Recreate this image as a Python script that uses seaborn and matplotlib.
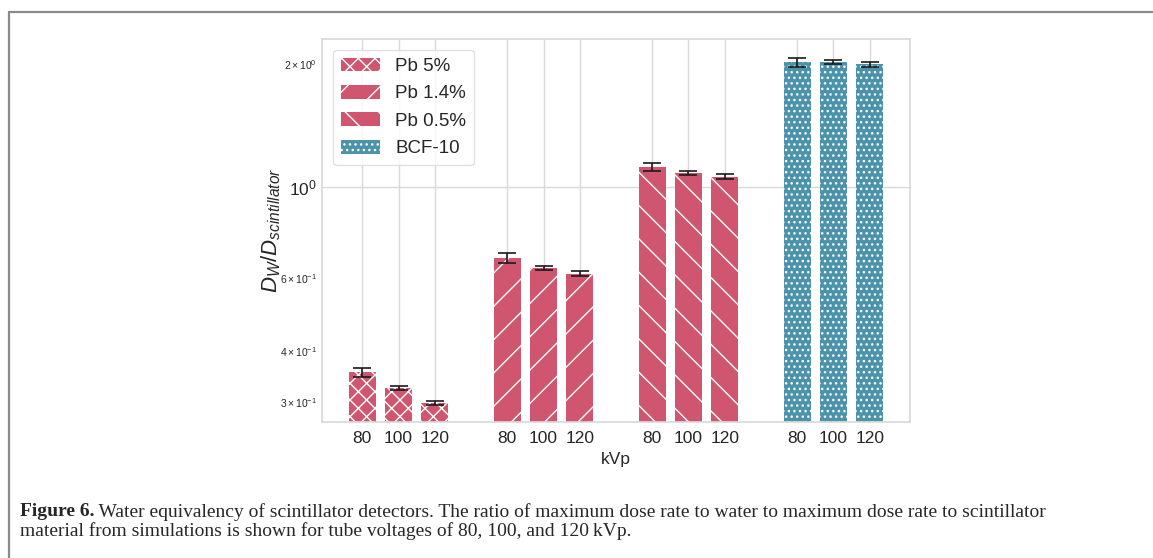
import numpy as np
import matplotlib
matplotlib.use("Agg")
import matplotlib.pyplot as plt
import seaborn as sns

# Tube voltages and detector materials
kvp = ["80", "100", "120"]
materials = ["Pb 5%", "Pb 1.4%", "Pb 0.5%", "BCF-10"]

# Ratio D_W / D_scintillator for each material at 80, 100, 120 kVp
pb5 = [0.354, 0.325, 0.298]
pb14 = [0.672, 0.636, 0.616]
pb05 = [1.121, 1.086, 1.062]
bcf10 = [2.018, 2.021, 1.995]

# Simulation uncertainties
pb5_err = [0.0090, 0.0035, 0.0038]
pb14_err = [0.019, 0.0082, 0.0093]
pb05_err = [0.0265, 0.0125, 0.014]
bcf10_err = [0.053, 0.026, 0.030]

values = [pb5, pb14, pb05, bcf10]
errors = [pb5_err, pb14_err, pb05_err, bcf10_err]
colors = ["#d0566f", "#d0566f", "#d0566f", "#4a93ab"]
hatches = ["xx", "/", "\\", "..."]

sns.set_theme(style="whitegrid")
plt.rcParams["font.family"] = ["Liberation Sans", "DejaVu Sans"]
plt.rcParams["mathtext.fontset"] = "custom"
plt.rcParams["mathtext.rm"] = "Liberation Sans"
plt.rcParams["mathtext.it"] = "Liberation Sans:italic"
plt.rcParams["hatch.color"] = "white"
plt.rcParams["hatch.linewidth"] = 1.0

fig = plt.figure(figsize=(11.53, 5.58), dpi=100)
ax = fig.add_axes([322 / 1153, 136 / 558, 588 / 1153, 383 / 558])

positions = []
for g, (vals, errs) in enumerate(zip(values, errors)):
    x = np.arange(len(kvp)) + 4 * g
    positions.extend(x)
    ax.bar(x, vals, width=0.75, color=colors[g], hatch=hatches[g],
           edgecolor="white", linewidth=0, label=materials[g], zorder=2)
    ax.errorbar(x, vals, yerr=errs, fmt="none", ecolor="#1a1a1a",
                elinewidth=1.2, capsize=6.5, capthick=1.2, zorder=3)

ax.set_yscale("log")
ax.set_ylim(0.268, 2.30)
ax.set_xticks(positions)
ax.set_xticklabels(kvp * len(materials))
ax.tick_params(axis="x", which="major", labelsize=12.5, length=0, pad=6.5)
ax.tick_params(axis="y", which="major", labelsize=12.5, length=0, pad=3.5)
ax.tick_params(axis="y", which="minor", labelsize=7.5, length=0, pad=3.5)
ax.set_xlabel("kVp", fontsize=12.5, labelpad=4.5)
ax.set_ylabel("$D_W/D_{scintillator}$", fontsize=16, labelpad=-2)
ax.grid(True, which="major", color="0.85", linewidth=1)
ax.set_axisbelow(True)
for s in ax.spines.values():
    s.set_color("0.85")

leg = ax.legend(loc="upper left", fontsize=13.5, handlelength=2.1,
                handleheight=0.75, labelspacing=0.53, borderaxespad=0.6,
                handletextpad=0.8, frameon=True, edgecolor="0.85")

# Page border around the figure block
fig.add_artist(plt.Line2D([9 / 1153, 1.0], [1 - 12 / 558, 1 - 12 / 558],
                          transform=fig.transFigure, color="#8a8a8a", lw=1.6))
fig.add_artist(plt.Line2D([9 / 1153, 9 / 1153], [0.0, 1 - 12 / 558],
                          transform=fig.transFigure, color="#8a8a8a", lw=1.6))

# Caption
cap_bold = "Figure 6."
cap_line1 = (" Water equivalency of scintillator detectors. The ratio of maximum dose rate "
             "to water to maximum dose rate to scintillator")
cap_line2 = "material from simulations is shown for tube voltages of 80, 100, and 120\u2009kVp."
cap_font = ["Liberation Serif", "DejaVu Serif"]
cap_size = 14
x0 = 20 / 1153
y1 = 1 - 512 / 558
y2 = 1 - 531 / 558
renderer = fig.canvas.get_renderer()
tb = fig.text(x0, y1, cap_bold, fontsize=cap_size, fontweight="bold",
              family=cap_font, va="center", ha="left")
bb = tb.get_window_extent(renderer)
fig.text(bb.x1 / fig.bbox.width, y1, cap_line1, fontsize=cap_size,
         family=cap_font, va="center", ha="left")
fig.text(x0, y2, cap_line2, fontsize=cap_size, family=cap_font,
         va="center", ha="left")

fig.savefig("out.png", dpi=100)
